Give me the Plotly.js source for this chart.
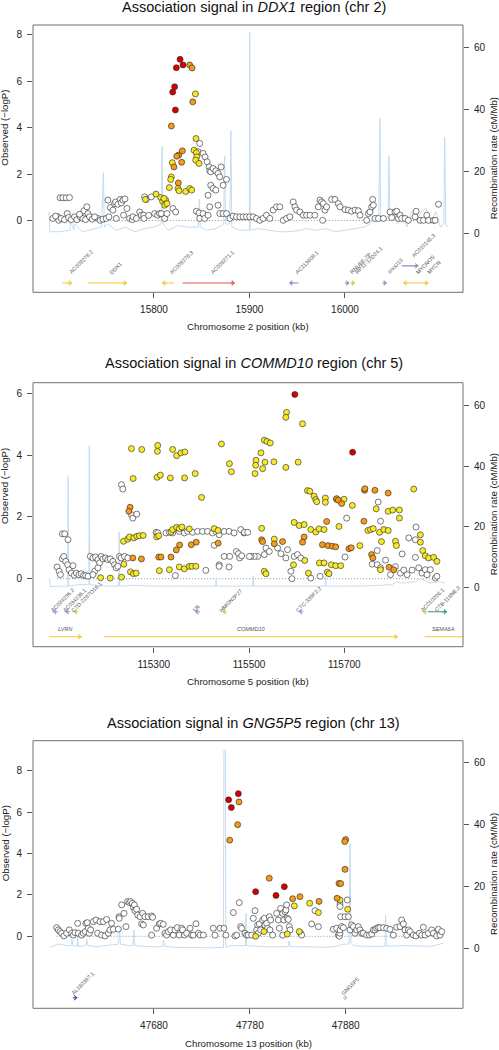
<!DOCTYPE html>
<html><head><meta charset="utf-8">
<script src="https://cdn.plot.ly/plotly-3.0.1.min.js"></script>
<style>html,body{margin:0;padding:0;background:#fff}#chart{width:499px;height:1050px}</style>
</head><body><div id="chart"></div>
<script>
// ================= DATA =================
// ---- Panel 1: DDX1 region, chr 2 (position kb, -log10 P) ----
const p1WhiteX = [15701.7,15704.5,15708.0,15711.5,15699.3,15700.3,15702.8,15706.3,15709.1,15710.5,
15713.3,15716.8,15719.2,15722.7,15725.5,15726.6,15728.3,15729.7,15730.8,15732.5,
15735.3,15741.3,15743.7,15746.5,15750.0,15752.8,15751.7,15754.2,15757.0,15758.7,
15760.5,15759.8,15762.2,15764.7,15765.7,15767.5,15769.6,15768.2,15771.7,15774.5,
15777.3,15778.0,15781.5,15785.0,15786.7,15789.2,15789.5,15790.2,15792.0,15794.4,
15797.2,15800.7,15803.8,15805.9,15807.7,15811.2,15813.6,15819.9,15822.7,15844.4,
15847.2,15847.9,15851.4,15853.1,15856.6,15846.2,15847.9,15851.4,15853.5,15855.6,
15857.7,15858.4,15859.4,15861.9,15864.7,15867.1,15868.9,15870.3,15872.4,15875.9,
15859.4,15861.9,15864.7,15856.6,15858.4,15867.1,15868.9,15872.4,15875.9,15879.4,
15882.9,15886.4,15889.9,15893.4,15896.9,15900.3,15903.8,15907.3,15910.8,15914.3,
15917.8,15921.3,15924.8,15928.3,15931.8,15935.3,15938.8,15942.3,15945.8,15947.6,
15949.3,15952.8,15956.3,15959.8,15963.3,15968.5,15972.0,15973.8,15975.5,15977.3,
15979.0,15976.6,15980.8,15986.0,15989.5,15993.0,15994.8,16000.0,16003.5,16007.0,
16010.5,16014.0,16015.7,16022.7,16024.5,16026.2,16028.0,16029.0,16029.7,16031.5,
16035.0,16040.2,16047.2,16049.0,16052.4,16054.2,16055.9,16057.7,16059.4,16062.9,
16066.4,16073.4,16074.5,16078.7,16082.2,16085.7,16087.4,16092.7,16094.4,16097.9,
15694.0,15696.9,15722.0,15737.8];
const p1WhiteY = [0.98,0.98,0.98,0.99,0.16,0.01,0.09,0.04,0.30,0.13,
0.04,0.16,0.04,0.16,0.09,0.42,0.04,0.59,0.30,0.16,
0.06,0.09,0.01,0.06,0.09,0.16,0.88,0.56,0.45,0.73,
0.09,0.80,0.70,0.91,0.76,0.88,0.93,0.23,0.52,0.09,
0.04,0.16,0.09,0.37,0.23,0.23,0.09,1.02,0.91,0.22,
1.02,0.30,0.23,0.30,0.30,0.09,0.30,0.52,0.37,0.40,
0.33,0.09,0.30,0.09,0.23,2.96,3.32,2.89,2.74,2.53,
2.31,2.14,2.10,2.24,2.14,2.03,1.88,2.31,1.52,1.77,
1.52,1.38,1.31,1.09,0.59,0.66,0.30,0.30,0.30,0.09,
0.19,0.16,0.16,0.16,0.16,0.16,0.16,0.09,0.01,0.09,
0.23,0.09,0.45,0.59,0.59,0.01,0.09,0.16,0.80,0.59,
0.45,0.37,0.23,0.23,0.23,0.23,0.59,0.88,0.80,0.73,
0.45,0.01,0.59,0.91,0.91,0.73,0.59,0.47,0.45,0.40,
0.45,0.42,0.23,0.01,0.30,0.37,0.59,0.91,0.66,0.09,
0.09,0.09,0.37,0.13,0.37,0.40,0.09,0.23,0.09,0.09,
0.01,0.16,0.40,0.01,0.01,0.23,0.01,0.01,0.01,0.70,
0.09,0.19,0.27,0.16];
const p1YellowX = [15843.4,15844.0,15841.9,15844.4,15844.8,15843.7,15847.2,15819.2,15818.2,15817.5,15816.1,15825.2,15826.2,15833.2,15837.4,15839.5,15802.1,15807.0,15809.1,15812.2,15811.2,15790.9,15813.6,15810.5];
const p1YellowY = [5.45,3.53,3.03,2.92,2.74,2.60,2.46,2.49,1.88,1.77,1.42,1.38,1.28,1.25,1.38,1.31,1.14,0.99,0.82,0.88,0.66,0.91,0.73,0.95];
const p1OrangeX = [15837.4,15839.9,15840.6,15818.2,15825.9,15823.8,15829.7,15829.0,15820.9,15825.5];
const p1OrangeY = [6.70,6.57,5.11,4.07,2.82,2.77,3.00,2.51,2.31,1.62];
const p1RedX = [15827.3,15823.4,15830.4,15821.6,15819.6,15822.4];
const p1RedY = [6.94,6.58,6.70,5.76,5.53,4.76];
const p1RecX = [15690,15691,15700,15712,15713,15716,15717,15725,15745,15747,
15748,15752,15760,15770,15780,15790,15800,15807.5,15808.5,15809.5,
15815,15825,15835,15846.5,15847.5,15848.5,15855,15865,15873,15874,
15875,15879.5,15880.5,15881.5,15890,15899.8,15900.3,15900.8,15910,15920,
15930,15940,15950,15960,15970,15980,15990,16000,16010,16020,
16026,16030,16035.5,16036.5,16037.5,16045,16046,16047,16050,16055,
16060,16065,16070,16075,16080,16085,16090,16095,16100,16103.5,
16104.5,16105.5,16107];
const p1RecY = [7,0.5,0.5,1,4,1,3,0.5,2,19.5,
2,3,1,2,0.5,1.5,2,3,28,3,
1,2.5,2,2,11,2,1,1.5,3,25,
3,3,33,2,1,1,64.7,1,1.5,1,
0.5,0.5,0.8,1.5,1,1.5,0.5,1,1.5,2,
3,5,6,37,5,4,25,5,6,3,
6,2,7,4,7,8,3,7,2,3,
31,3,2];
const p1GeneName = ["AC008278.2","DDX1","AC008278.3","AC008271.1","AC113608.1","RNU6E-7P","RP11-12D24.1","snoU13","AC010145.3","MYCNOS","MYCN"];
const p1GeneStart = [15703.8,15730.8,15808.4,15830.0,15941.6,16001.7,16007.0,16040.9,16059.4,16061.0,16081.5];
const p1GeneEnd = [15714.3,15771.7,15821.0,15884.6,15951.4,16004.5,16010.5,16043.7,16076.9,16082.0,16087.4];
const p1GeneStrand = [1,1,-1,1,-1,1,1,1,1,-1,1];
const p1GeneType = ["protein_coding","protein_coding","protein_coding","antisense","snRNA","snRNA","pseudogene","snRNA","snRNA","protein_coding","protein_coding"];
const p1GeneRow = [0,0,0,0,0,0,0,0,1,0,0];

// ---- Panel 2: COMMD10 region, chr 5 ----
const p2WhiteX = [115232.4,115235.2,115253.3,115256.1,115264.5,115108.3,115113.2,115120.2,
115097.2,115101.4,115104.1,115108.3,115111.1,115115.3,115119.5,115122.3,115127.1,115130.6,115133.4,115137.6,115143.2,115148.1,115152.9,115157.1,115162.0,
115166.9,115172.4,115178.0,115182.9,115186.4,115189.9,115193.4,115198.9,115203.8,115208.7,115214.3,115217.8,115221.2,115224.7,115175.9,115172.4,115182.9,115228.2,
115231.7,115238.7,115245.6,115304.9,115308.4,115325.8,115332.8,115339.7,115353.7,115364.1,
115371.1,115381.5,115392.0,115402.5,115412.9,115423.4,115430.3,115437.3,115447.8,115458.2,
115468.7,115482.6,115489.6,115426.9,115437.3,115437.3,115447.8,115459.6,115473.6,115477.7,
115480.5,115484.7,115458.2,115409.4,115345.3,
115771.2,115776.0,115705.0,115769.1,115821.4,115835.3,115850.6,115849.2,115849.2,115535.6,
115542.6,115532.1,115518.2,115511.2,115504.2,115580.9,115577.4,115594.8,115601.8,115608.8,
115587.9,115590.0,115629.7,115649.2,115701.5,115758.6,115769.1,115776.0,115797.0,115817.9,
115831.8,115856.2,115863.2,115870.1,115873.6,115880.6,115891.1,115894.5,115490.3,115497.3,
115500.7,115560.0,115567.0,115786.5,115807.4,115824.8,115842.3];
const p2WhiteY = [3.04,2.90,2.07,1.96,2.09,1.45,1.45,1.26,
0.38,0.24,0.13,0.64,0.72,0.56,0.45,0.29,0.18,0.42,0.11,0.18,0.13,0.16,0.11,0.10,0.08,
0.72,0.67,0.70,0.62,0.51,0.72,0.64,0.67,0.62,0.64,0.56,0.45,0.35,0.40,0.24,0.13,0.35,0.72,
0.67,0.72,0.67,1.50,1.48,1.48,1.50,1.48,1.53,1.48,
1.53,1.50,1.53,1.53,1.53,1.48,1.53,1.42,1.53,1.53,
1.48,1.59,1.48,1.08,0.45,0.40,0.72,0.72,0.88,0.81,
0.67,0.74,0.38,0.27,0.10,
2.48,1.86,1.96,0.91,0.80,1.32,1.67,1.26,0.69,0.99,
0.88,0.78,0.72,0.72,0.72,0.94,0.67,0.72,0.78,0.67,
0.24,0.00,0.02,0.08,0.70,0.47,0.45,0.35,0.13,0.18,
0.13,0.35,0.18,0.29,0.13,0.29,0.02,0.08,1.50,1.50,
0.72,0.99,0.81,0.60,0.39,0.28,0.28];
const p2YellowX = [115253.3,115274.9,115308.4,115307.7,115339.7,115348.1,115357.2,115365.5,115442.2,115458.9,
115463.1,115256.8,115307.0,115313.9,115334.9,115364.8,115387.1,115400.4,115236.6,115245.6,
115249.1,115258.2,115264.5,115270.0,115277.7,115306.3,115310.5,115336.2,115339.7,115348.1,
115353.7,115359.2,115374.6,115426.9,115435.2,115237.3,115251.2,115257.5,115263.1,115188.5,
115208.7,115232.4,115311.8,115332.8,115353.7,115364.1,115374.6,115380.2,115388.5,115578.8,
115577.4,115612.3,115532.1,115537.7,115544.6,115525.1,115514.7,115514.0,115533.5,115552.3,
115528.6,115512.6,115577.4,115603.2,115622.7,115627.6,115636.7,115640.1,115642.2,115660.3,
115660.3,115683.4,115699.4,115716.8,115767.0,115792.1,115801.8,115815.8,115815.8,115845.8,
115594.8,115605.3,115615.7,115629.7,115640.1,115647.1,115657.6,115688.9,115749.6,115755.1,
115760.7,115774.0,115783.0,115792.1,115807.4,115809.5,115778.1,115859.7,115859.7,115864.6,
115870.1,115877.1,115887.6,115894.5,115526.5,115553.0,115593.4,115617.1,115647.8,115657.6,
115672.9,115682.0,115692.4,115664.5,115668.0,115624.8,115532.1,115535.6,115732.8,115776.0];
const p2YellowY = [4.21,4.18,4.31,4.12,4.18,3.98,4.07,4.10,4.36,3.72,
3.46,3.24,3.28,3.35,3.26,3.26,3.40,2.63,1.21,1.28,
1.35,1.32,1.37,1.39,1.40,1.35,1.39,1.51,1.59,1.66,
1.62,1.67,1.61,1.62,1.56,0.47,0.22,0.16,0.18,0.03,
0.02,0.05,0.26,0.29,0.38,0.32,0.40,0.40,0.40,5.38,
5.22,5.01,4.48,4.44,4.39,4.07,3.83,3.67,3.77,3.78,
3.56,3.40,3.60,3.77,2.85,2.83,2.67,2.56,2.49,2.61,
2.47,2.57,2.57,2.37,2.26,2.18,2.22,2.22,1.96,2.90,
1.82,1.72,1.75,1.59,1.51,1.61,1.59,1.69,1.56,1.59,
1.62,1.50,1.59,1.56,1.21,1.07,1.20,1.42,1.18,0.91,
0.74,0.67,0.69,0.56,1.63,1.28,0.45,0.59,0.51,0.51,
0.45,0.42,0.42,0.21,0.16,0.18,0.24,0.16,1.07,0.29];
const p2OrangeX = [115250.5,115247.7,115256.1,115274.2,115310.5,115315.3,115336.2,115347.4,115354.4,115378.8,
115389.2,115435.2,115526.5,115528.6,115553.0,115570.4,115615.7,115612.3,115663.1,115654.1,
115665.9,115675.0,115682.0,115709.8,115714.7,115742.6,115743.3,115764.2,115792.1,115741.2,
115684.0,115687.5,115694.5,115757.3,115760.1,115794.2,115803.9];
const p2OrangeY = [2.31,2.18,0.67,0.64,0.70,0.70,0.70,0.93,1.09,1.10,
1.18,1.15,1.26,1.20,1.13,1.20,1.35,1.18,1.85,1.10,
1.07,1.05,1.03,0.97,1.00,2.86,2.91,2.86,2.77,1.86,
2.59,2.54,2.43,0.78,0.67,0.37,0.29];
const p2RedX = [115596.2,115717.5];
const p2RedY = [5.96,4.09];
const p2RecX = [115081,115083,115100,115119.5,115120.5,115121.5,115140,115163.8,115164.8,115165.8,
115200,115226.5,115227.5,115228.5,115260,115300,115350,115400,115430,115431,
115432,115500,115508,115509,115510,115550,115600,115650,115660,115661,
115662,115700,115750,115800,115810,115820,115850,115860,115880,115900,115912];
const p2RecY = [3,0.3,0.5,0.5,36.5,0.5,1,1,46.6,1,
0.5,0.5,18.4,0.5,0.8,0.5,0.5,0.5,0.5,3,
0.5,0.5,0.5,4,0.5,0.5,0.5,0.5,0.5,4,
0.5,0.5,0.6,1,2,1.5,2,3,1.5,2,1.5];
const p2GeneName = ["AC034236.2","AC034236.1","CTD-2287O16.1","U6","HMGN2P27","CTC-339F2.2","AC010296.1","CTB-118N6.3","LVRN","COMMD10","SEMA6A"];
const p2GeneStart = [115089.0,115114.8,115132.2,115387.3,115444.5,115604.8,115864.8,115875.7,115080.4,115195.5,115868.8];
const p2GeneEnd = [115090.5,115116.3,115133.7,115388.8,115446.0,115606.3,115866.3,115915.5,115148.7,115812.3,115965.0];
const p2GeneStrand = [-1,-1,-1,-1,-1,-1,-1,1,1,1,1];
const p2GeneType = ["snRNA","snRNA","pseudogene","snRNA","pseudogene","snRNA","pseudogene","lincRNA","protein_coding","protein_coding","protein_coding"];
const p2GeneRow = [0,0,0,0,0,0,0,0,1,1,1];

// ---- Panel 3: GNG5P5 region, chr 13 ----
const p3WhiteX = [47578.4,47580.2,47581.9,47583.7,47586.1,47588.9,47591.7,47594.1,47595.8,47597.6,
47600.4,47601.0,47604.5,47606.3,47608.3,47609.0,47610.4,47611.5,47612.5,47613.9,
47616.7,47619.5,47621.2,47623.7,47625.4,47627.1,47628.9,47630.6,47632.4,47634.1,
47635.8,47637.6,47642.8,47643.5,47643.8,47646.3,47648.7,47650.8,47652.5,47654.3,
47655.7,47657.4,47658.4,47659.5,47660.2,47661.9,47663.0,47665.4,47667.1,47668.9,
47668.2,47670.6,47674.1,47677.6,47678.6,47677.6,47682.8,47685.6,47687.0,47689.7,
47691.5,47693.2,47695.0,47697.4,47700.2,47701.9,47704.3,47706.4,47708.9,47709.9,
47711.7,47714.1,47717.6,47719.3,47721.0,47723.8,47726.3,47728.0,47731.5,47741.9,
47743.6,47748.9,47753.0,47755.1,47762.8,47764.5,47766.3,47769.0,47770.4,47771.5,
47774.9,47776.7,47778.4,47781.9,47783.6,47785.4,47787.1,47788.2,47788.9,47789.9,
47791.3,47793.4,47795.1,47795.8,47797.6,47798.6,47800.3,47801.0,47801.7,47803.8,
47808.0,47809.7,47810.8,47812.2,47814.3,47815.6,47816.7,47817.7,47818.4,47819.1,
47820.2,47821.2,47821.9,47814.3,47833.0,47834.1,47844.5,47848.0,47851.5,47867.1,
47870.6,47872.3,47873.4,47874.1,47874.1,47874.1,47874.8,47874.1,47875.8,47877.6,
47879.3,47881.7,47882.8,47884.5,47886.2,47888.0,47889.7,47891.5,47893.2,47894.9,
47896.7,47898.4,47901.9,47904.7,47907.1,47908.9,47910.6,47912.3,47914.1,47915.8,
47919.3,47922.8,47926.2,47929.7,47933.2,47936.7,47938.4,47940.2,47941.9,47943.6,
47945.4,47947.1,47950.6,47953.4,47956.9,47959.3,47961.0,47962.8,47966.2,47969.7,
47971.5,47974.9,47976.7,47978.4,47980.2];
const p3WhiteY = [0.42,0.31,0.23,0.15,0.02,0.15,0.31,0.15,0.06,0.18,
0.63,0.15,0.06,0.15,0.23,0.63,0.66,0.39,0.15,0.31,
0.71,0.79,0.15,0.71,0.06,0.71,0.02,0.82,0.15,0.31,
0.63,0.34,0.35,0.95,0.87,1.52,1.11,0.47,1.68,1.63,
1.68,1.60,1.40,1.52,1.24,1.31,1.03,0.95,0.60,0.55,
1.11,0.95,0.95,0.98,0.92,0.06,0.39,0.60,0.63,0.58,
0.15,0.06,0.23,0.31,0.06,0.31,0.42,0.06,0.39,0.31,
0.06,0.15,0.39,0.06,0.06,0.61,0.15,0.06,0.06,0.39,
0.06,0.39,0.39,0.06,1.15,0.02,0.06,1.63,0.47,0.39,
0.15,0.06,0.06,0.06,0.87,1.24,0.31,0.55,0.15,0.60,
0.31,0.79,0.87,0.55,0.63,0.39,0.95,0.31,0.79,0.06,
1.11,0.79,0.39,1.35,1.11,0.79,1.19,1.27,1.52,0.87,
0.82,0.47,0.31,0.06,0.15,0.06,0.60,1.24,0.47,0.34,
0.39,0.06,0.01,0.15,1.56,1.44,0.95,0.31,0.47,0.42,
0.95,1.76,0.95,0.31,0.55,0.47,0.15,0.31,0.47,0.31,
0.15,0.15,0.06,0.06,0.11,0.31,0.31,0.39,0.42,0.42,
0.42,0.39,0.34,0.06,0.44,0.47,0.79,0.60,0.31,0.06,
0.31,0.23,0.06,0.02,0.15,0.06,0.44,0.06,0.15,0.31,
0.15,0.02,0.34,0.06,0.23];
const p3YellowX = [47786.1,47794.8,47819.1,47826.4,47831.6,47842.4,47851.5,47874.1,47882.1];
const p3YellowY = [0.00,0.23,0.11,1.47,0.23,1.60,1.15,1.76,1.31];
const p3OrangeX = [47768.7,47767.3,47759.0,47800.3,47824.7,47832.3,47852.2,47880.0,47879.0,47879.3,47873.0,47874.8,47871.0];
const p3OrangeY = [6.50,5.40,4.65,2.81,1.82,1.92,1.69,4.68,4.58,3.24,2.56,2.55,1.84];
const p3RedX = [47757.9,47760.7,47768.0,47786.1,47807.3,47816.0];
const p3RedY = [6.60,6.23,6.90,2.16,1.98,2.40];
const p3RecX = [47571,47580,47590,47593.5,47594.5,47595.5,47600,47600.4,47601,47609,
47610,47611,47620,47635,47643,47644,47645,47655,47658,47659,
47660,47680,47689,47690,47691,47700,47720,47740,47752.5,47753,
47754.5,47755,47760,47775.5,47776,47776.5,47790,47800,47820,47821,
47822,47840,47860,47870,47878,47883.5,47884.5,47885.5,47888,47900,
47921.2,47921.7,47922.2,47940,47960,47970,47982];
const p3RecY = [0.5,1.5,1,1,3,1,0.8,6,0.8,1,
3,1,0.7,1.2,1.5,6,1.5,1,1,6,
1,0.6,0.8,2.8,0.8,0.5,0.4,0.3,0.5,64,
64,0.5,1,1,11.4,1,0.8,0.6,0.7,2.5,
0.7,0.5,0.5,0.8,1.5,1.5,34,2,1,0.8,
0.8,10.9,0.8,1,0.8,0.8,1.8];
const p3GeneName = ["AL160397.1","GNG5P5"];
const p3GeneStart = [47598.5,47880.3];
const p3GeneEnd = [47600.0,47881.8];
const p3GeneStrand = [1,1];
const p3GeneType = ["miRNA","processed_pseudogene"];
const p3GeneRow = [0,0];

const titleGene = ["DDX1","COMMD10","GNG5P5"];
const chromosomes = [2,5,13];

// ================= STYLE / LAYOUT =================
const W = 499, H = 1050;
const FONT = "Liberation Sans, Arial, Helvetica, sans-serif";
const COL = {white:"#ffffff", yellow:"#f7e92a", orange:"#f59a1b", red:"#d60000", rec:"#c4dcf0"};
const GENECOL = {protein_coding:"#f6c635", antisense:"#e0574a", snRNA:"#9b82cf", pseudogene:"#b5d433",
  lincRNA:"#259a70", miRNA:"#1f3f9e", processed_pseudogene:"#bdbdbd"};
const boxL = 33, boxR = 463;
const boxTB = [[25,292.3],[382.7,646.7],[740.7,1008.3]];
const xRanges = [[15673.3,16123.6],[115046.6,115949.2],[47553.8,48002.4]];
const pRanges = [[-3.09,8.42],[-2.2,6.34],[-3.48,9.46]];
const rRanges = [[-19.0,67.1],[-19.4,67.4],[-19.2,67.1]];
const pTicks = [[0,2,4,6,8],[0,2,4,6],[0,2,4,6,8]];
const rTicks = [0,20,40,60];
const xTickVals = [[15800,15900,16000],[115300,115500,115700],[47680,47780,47880]];
const geneRowY = [[-2.69,-1.95],[-1.07,-1.88],[-2.97]];
const leftTitleY = [4,3,4.5];
const labShift = [{x:-2,y:5},{x:-7,y:-4},{x:-9,y:-1}];
const horizRows = [[],[1],[]];
const titleY = [7,363.3,723.3];
const xTitleY = [327,681.7,1043.3];

const panels = [
  {w:[p1WhiteX,p1WhiteY],y:[p1YellowX,p1YellowY],o:[p1OrangeX,p1OrangeY],r:[p1RedX,p1RedY],rec:[p1RecX,p1RecY],
   g:{n:p1GeneName,s:p1GeneStart,e:p1GeneEnd,d:p1GeneStrand,t:p1GeneType,row:p1GeneRow}},
  {w:[p2WhiteX,p2WhiteY],y:[p2YellowX,p2YellowY],o:[p2OrangeX,p2OrangeY],r:[p2RedX,p2RedY],rec:[p2RecX,p2RecY],
   g:{n:p2GeneName,s:p2GeneStart,e:p2GeneEnd,d:p2GeneStrand,t:p2GeneType,row:p2GeneRow}},
  {w:[p3WhiteX,p3WhiteY],y:[p3YellowX,p3YellowY],o:[p3OrangeX,p3OrangeY],r:[p3RedX,p3RedY],rec:[p3RecX,p3RecY],
   g:{n:p3GeneName,s:p3GeneStart,e:p3GeneEnd,d:p3GeneStrand,t:p3GeneType,row:p3GeneRow}}
];

const traces = [], annotations = [], shapes = [];
const layout = {width:W, height:H, margin:{l:0,r:0,t:0,b:0}, paper_bgcolor:"#fff", plot_bgcolor:"#fff",
  showlegend:false, font:{family:FONT, color:"#222"}};

const tickStyle = {ticks:"outside", ticklen:5, tickwidth:1, tickcolor:"#555", showgrid:false, zeroline:false,
  showline:false, tickfont:{size:10, color:"#222", family:FONT}, ticklabelstandoff:3, fixedrange:true, tickmode:"array"};

panels.forEach((P, i) => {
  const xa = i === 0 ? "x" : "x" + (i+1);
  const ra = i === 0 ? "y" : "y" + (i+1);
  const pa = "y" + (i+4);
  const xKey = i === 0 ? "xaxis" : "xaxis" + (i+1);
  const rKey = i === 0 ? "yaxis" : "yaxis" + (i+1);
  const pKey = "yaxis" + (i+4);
  const [top, bot] = boxTB[i];
  layout[xKey] = Object.assign({}, tickStyle, {domain:[boxL/W, boxR/W], anchor:ra, range:xRanges[i],
    tickvals:xTickVals[i], ticktext:xTickVals[i].map(v => String(v))});
  layout[rKey] = Object.assign({}, tickStyle, {domain:[1-bot/H, 1-top/H], anchor:xa, side:"right", range:rRanges[i],
    tickvals:rTicks, ticktext:rTicks.map(v => String(v))});
  layout[pKey] = Object.assign({}, tickStyle, {overlaying:ra, anchor:xa, side:"left", range:pRanges[i],
    tickvals:pTicks[i], ticktext:pTicks[i].map(v => String(v))});

  // recombination rate
  traces.push({type:"scatter", mode:"lines", x:P.rec[0], y:P.rec[1], xaxis:xa, yaxis:ra,
    line:{color:COL.rec, width:1}, hoverinfo:"skip"});

  // zero reference line across SNP span
  const allX = P.w[0].concat(P.y[0], P.o[0], P.r[0]);
  shapes.push({type:"line", xref:xa, yref:pa, x0:Math.min(...allX), x1:Math.max(...allX), y0:0, y1:0,
    line:{color:"#7a7a7a", width:0.8, dash:"1px,2px"}, layer:"below"});

  // genes
  const G = P.g;
  const xr = xRanges[i];
  G.n.forEach((name, k) => {
    const c = GENECOL[G.t[k]];
    const yy = geneRowY[i][G.row[k]];
    traces.push({type:"scatter", mode:"lines", x:[G.s[k], G.e[k]], y:[yy, yy], xaxis:xa, yaxis:pa,
      line:{color:c, width:1.1}, hoverinfo:"skip"});
    const head = G.d[k] > 0 ? G.e[k] : G.s[k];
    if (head >= xr[0] && head <= xr[1]) {
      annotations.push({x:head, y:yy, xref:xa, yref:pa, ax:G.d[k] > 0 ? -6 : 6, ay:0, text:"",
        showarrow:true, arrowhead:4, arrowsize:0.9, arrowwidth:1, arrowcolor:c});
    }
    const mid = (Math.max(G.s[k], xr[0]) + Math.min(G.e[k], xr[1])) / 2;
    const horiz = horizRows[i].includes(G.row[k]);
    annotations.push({x:mid, y:yy, xref:xa, yref:pa, text: horiz ? "<i>" + name + "</i>" : name, showarrow:false,
      textangle: horiz ? 0 : -45, xanchor: horiz ? "center" : "left", yanchor:"bottom",
      xshift: horiz ? 0 : labShift[i].x, yshift: horiz ? 3 : labShift[i].y,
      font:{size:5.5, color:"#555", family:FONT}});
  });

  // SNPs (white, yellow, orange, red)
  [["w",COL.white],["y",COL.yellow],["o",COL.orange],["r",COL.red]].forEach(([key, col]) => {
    traces.push({type:"scatter", mode:"markers", x:P[key][0], y:P[key][1], xaxis:xa, yaxis:pa,
      marker:{size:6, color:col, line:{color:"#222", width:0.6}}, hoverinfo:"skip"});
  });

  // plot box
  shapes.push({type:"rect", xref:xa + " domain", yref:ra + " domain", x0:0, x1:1, y0:0, y1:1,
    line:{color:"#707070", width:1}, fillcolor:"rgba(0,0,0,0)", layer:"above"});

  // titles
  annotations.push({xref:"paper", yref:"paper", x:254/W, y:1 - titleY[i]/H, xanchor:"center", yanchor:"middle",
    text:"Association signal in <i>" + titleGene[i] + "</i> region (chr " + chromosomes[i] + ")", showarrow:false,
    font:{size:14.5, color:"#111", family:FONT}});
  annotations.push({xref:"paper", yref:"paper", x:248/W, y:1 - xTitleY[i]/H, xanchor:"center", yanchor:"middle",
    text:"Chromosome " + chromosomes[i] + " position (kb)", showarrow:false, font:{size:9.7, color:"#222", family:FONT}});
  annotations.push({xref:"paper", yref:pa, x:5/W, y:leftTitleY[i], xanchor:"center", yanchor:"middle", textangle:-90,
    text:"Observed (\u2212logP)", showarrow:false, font:{size:9.7, color:"#222", family:FONT}});
  annotations.push({xref:"paper", yref:"paper", x:493.5/W, y:1 - ((top+bot)/2)/H, xanchor:"center", yanchor:"middle", textangle:-90,
    text:"Recombination rate (cM/Mb)", showarrow:false, font:{size:9.7, color:"#222", family:FONT}});
});

layout.annotations = annotations;
layout.shapes = shapes;
Plotly.newPlot("chart", traces, layout, {displayModeBar:false, staticPlot:true});
</script></body></html>
